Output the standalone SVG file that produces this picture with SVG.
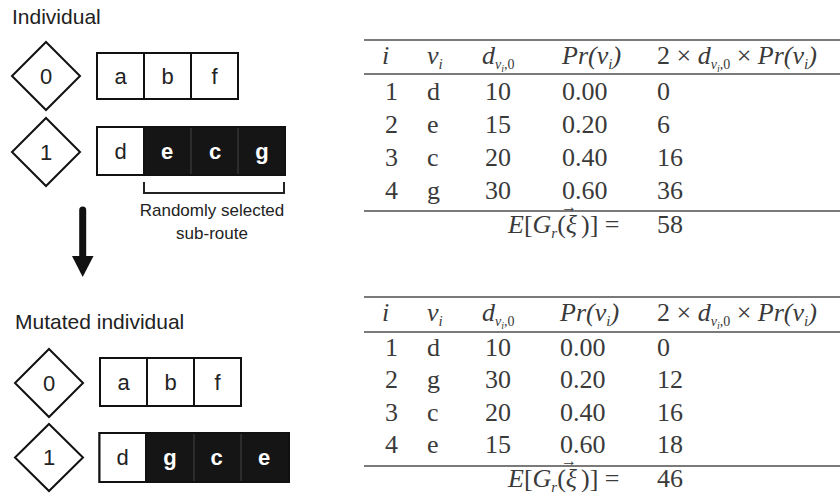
<svg xmlns="http://www.w3.org/2000/svg" width="840" height="500" viewBox="0 0 840 500">
<style>
.lbl{font-family:"Liberation Sans",Arial,sans-serif;font-size:21px;fill:#222}
.cell{font-family:"Liberation Sans",Arial,sans-serif;font-size:22px;fill:#222;text-anchor:middle}
.bcell{font-family:"Liberation Sans",Arial,sans-serif;font-size:22px;font-weight:bold;fill:#fff;text-anchor:middle}
.note{font-family:"Liberation Sans",Arial,sans-serif;font-size:17px;fill:#222;text-anchor:middle}
.dia{fill:#fff;stroke:#111;stroke-width:2}
.box{fill:#fff;stroke:#111;stroke-width:2}
.blk{fill:#151515;stroke:#111;stroke-width:2}
.div{stroke:#444;stroke-width:1}
.tb{font-family:"Liberation Serif","Times New Roman",serif;font-size:26px;fill:#3a3a3a}
.it{font-style:italic}
.vec{font-family:"Liberation Serif","DejaVu Serif",serif;font-size:16px;fill:#3a3a3a;text-anchor:middle}
.rule{stroke:#7a7a7a;stroke-width:2}
</style>
<rect width="840" height="500" fill="#fff"/>

<text class="lbl" x="12" y="24">Individual</text>

<g id="ind0">
  <polygon class="dia" points="46,42 80,76 46,110 12,76"/>
  <text class="cell" x="46" y="84">0</text>
  <rect class="box" x="97" y="53" width="141" height="46"/>
  <line class="box" x1="144" y1="53" x2="144" y2="99"/>
  <line class="box" x1="191" y1="53" x2="191" y2="99"/>
  <text class="cell" x="120.5" y="84">a</text>
  <text class="cell" x="167.5" y="84">b</text>
  <text class="cell" x="214.5" y="84">f</text>
</g>

<g id="ind1">
  <polygon class="dia" points="46,118 80,152 46,186 12,152"/>
  <text class="cell" x="46" y="160">1</text>
  <rect class="blk" x="97" y="127" width="188" height="48"/>
  <rect class="box" x="97" y="127" width="47" height="48"/>
  <line class="div" x1="191" y1="128" x2="191" y2="174"/>
  <line class="div" x1="238" y1="128" x2="238" y2="174"/>
  <text class="cell" x="120.5" y="159">d</text>
  <text class="bcell" x="167" y="159">e</text>
  <text class="bcell" x="215" y="159">c</text>
  <text class="bcell" x="262" y="159">g</text>
</g>

<g id="subroute">
  <path d="M144,182 V193 H284 V182" fill="none" stroke="#222" stroke-width="2"/>
  <text class="note" x="212" y="216">Randomly selected</text>
  <text class="note" x="212" y="239">sub-route</text>
</g>

<g id="connectors">
  <line x1="82.7" y1="210" x2="82.7" y2="258" stroke="#111" stroke-width="7" stroke-linecap="round"/>
  <polygon points="72,256 93.5,256 82.7,277" fill="#111"/>
</g>

<text class="lbl" x="15" y="329">Mutated individual</text>

<g id="mut0">
  <polygon class="dia" points="49,349 83,383 49,417 15,383"/>
  <text class="cell" x="49" y="391">0</text>
  <rect class="box" x="100" y="358" width="141" height="48"/>
  <line class="box" x1="147" y1="358" x2="147" y2="406"/>
  <line class="box" x1="194" y1="358" x2="194" y2="406"/>
  <text class="cell" x="123.5" y="390">a</text>
  <text class="cell" x="170.5" y="390">b</text>
  <text class="cell" x="217.5" y="390">f</text>
</g>

<g id="mut1">
  <polygon class="dia" points="49,424 83,457.5 49,491 15,457.5"/>
  <text class="cell" x="49" y="465">1</text>
  <rect class="blk" x="99.5" y="433" width="189.5" height="49"/>
  <rect class="box" x="99.5" y="433" width="46.5" height="49"/>
  <line class="div" x1="194" y1="434" x2="194" y2="481"/>
  <line class="div" x1="241" y1="434" x2="241" y2="481"/>
  <text class="cell" x="122.7" y="465">d</text>
  <text class="bcell" x="170" y="465">g</text>
  <text class="bcell" x="216.7" y="465">c</text>
  <text class="bcell" x="264" y="465">e</text>
</g>

<g id="table1">
  <line class="rule" x1="364" y1="40" x2="840" y2="40"/>
  <line class="rule" x1="364" y1="74" x2="840" y2="74"/>
  <line class="rule" x1="364" y1="211" x2="840" y2="211"/>
  <text class="tb it" x="382" y="64">i</text>
  <text class="tb it" x="427" y="64">v<tspan font-size="15" dy="5">i</tspan></text>
  <text class="tb" x="482" y="64"><tspan class="it">d</tspan><tspan class="it" font-size="14" dy="5">v</tspan><tspan class="it" font-size="10" dy="3">i</tspan><tspan font-size="14" dy="-3">,0</tspan></text>
  <text class="tb it" x="562" y="64">Pr(v<tspan font-size="15" dy="5">i</tspan><tspan dy="-5">)</tspan></text>
  <text class="tb" x="657" y="64">2 × <tspan class="it">d</tspan><tspan class="it" font-size="14" dy="5">v</tspan><tspan class="it" font-size="10" dy="3">i</tspan><tspan font-size="14" dy="-3">,0</tspan><tspan dy="-5"> × </tspan><tspan class="it">Pr(v</tspan><tspan class="it" font-size="15" dy="5">i</tspan><tspan class="it" dy="-5">)</tspan></text>
  <text class="tb" x="385" y="100">1</text><text class="tb" x="427" y="100">d</text><text class="tb" x="485" y="100">10</text><text class="tb" x="562" y="100">0.00</text><text class="tb" x="657" y="100">0</text>
  <text class="tb" x="385" y="133">2</text><text class="tb" x="427" y="133">e</text><text class="tb" x="485" y="133">15</text><text class="tb" x="562" y="133">0.20</text><text class="tb" x="657" y="133">6</text>
  <text class="tb" x="385" y="166">3</text><text class="tb" x="427" y="166">c</text><text class="tb" x="485" y="166">20</text><text class="tb" x="562" y="166">0.40</text><text class="tb" x="657" y="166">16</text>
  <text class="tb" x="385" y="199">4</text><text class="tb" x="427" y="199">g</text><text class="tb" x="485" y="199">30</text><text class="tb" x="562" y="199">0.60</text><text class="tb" x="657" y="199">36</text>
  <text class="tb" x="508" y="233"><tspan class="it">E</tspan>[<tspan class="it">G</tspan><tspan class="it" font-size="15" dy="5">r</tspan><tspan dy="-5">(</tspan><tspan class="it">ξ</tspan><tspan dx="4">)] =</tspan></text>
  <text class="vec" x="569" y="212">→</text>
  <text class="tb" x="657" y="233">58</text>
</g>

<g id="table2">
  <line class="rule" x1="364" y1="297" x2="840" y2="297"/>
  <line class="rule" x1="364" y1="332" x2="840" y2="332"/>
  <line class="rule" x1="364" y1="466" x2="840" y2="466"/>
  <text class="tb it" x="382" y="321">i</text>
  <text class="tb it" x="427" y="321">v<tspan font-size="15" dy="5">i</tspan></text>
  <text class="tb" x="482" y="321"><tspan class="it">d</tspan><tspan class="it" font-size="14" dy="5">v</tspan><tspan class="it" font-size="10" dy="3">i</tspan><tspan font-size="14" dy="-3">,0</tspan></text>
  <text class="tb it" x="560" y="321">Pr(v<tspan font-size="15" dy="5">i</tspan><tspan dy="-5">)</tspan></text>
  <text class="tb" x="657" y="321">2 × <tspan class="it">d</tspan><tspan class="it" font-size="14" dy="5">v</tspan><tspan class="it" font-size="10" dy="3">i</tspan><tspan font-size="14" dy="-3">,0</tspan><tspan dy="-5"> × </tspan><tspan class="it">Pr(v</tspan><tspan class="it" font-size="15" dy="5">i</tspan><tspan class="it" dy="-5">)</tspan></text>
  <text class="tb" x="385" y="356">1</text><text class="tb" x="427" y="356">d</text><text class="tb" x="485" y="356">10</text><text class="tb" x="560" y="356">0.00</text><text class="tb" x="657" y="356">0</text>
  <text class="tb" x="385" y="388">2</text><text class="tb" x="427" y="388">g</text><text class="tb" x="485" y="388">30</text><text class="tb" x="560" y="388">0.20</text><text class="tb" x="657" y="388">12</text>
  <text class="tb" x="385" y="421">3</text><text class="tb" x="427" y="421">c</text><text class="tb" x="485" y="421">20</text><text class="tb" x="560" y="421">0.40</text><text class="tb" x="657" y="421">16</text>
  <text class="tb" x="385" y="453">4</text><text class="tb" x="427" y="453">e</text><text class="tb" x="485" y="453">15</text><text class="tb" x="560" y="453">0.60</text><text class="tb" x="657" y="453">18</text>
  <text class="tb" x="508" y="487"><tspan class="it">E</tspan>[<tspan class="it">G</tspan><tspan class="it" font-size="15" dy="5">r</tspan><tspan dy="-5">(</tspan><tspan class="it">ξ</tspan><tspan dx="4">)] =</tspan></text>
  <text class="vec" x="569" y="466">→</text>
  <text class="tb" x="657" y="487">46</text>
</g>
</svg>
